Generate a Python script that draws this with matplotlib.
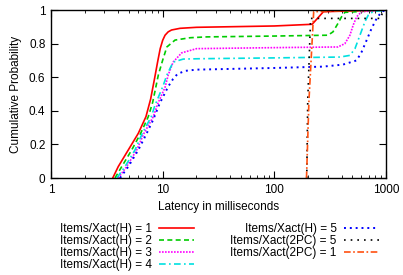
import matplotlib
matplotlib.use("Agg")
import matplotlib.pyplot as plt
from matplotlib.ticker import LogLocator, NullFormatter, FixedLocator

plt.rcParams["font.family"] = ["Liberation Sans", "DejaVu Sans"]
plt.rcParams["font.size"] = 8.5

# latency (ms) / cumulative probability
h1_x = [3.57, 4.0, 4.92, 6.05, 7.08, 7.8, 8.5, 9.0, 9.5, 10.0, 10.5, 11.2, 12.0, 14.3, 20.1, 100, 218, 275, 1000]
h1_y = [0, 0.068, 0.167, 0.266, 0.365, 0.47, 0.60, 0.69, 0.77, 0.82, 0.85, 0.87, 0.881, 0.891, 0.897, 0.905, 0.915, 0.99, 1.0]

h2_x = [3.74, 4.3, 5.28, 6.35, 7.43, 8.13, 9.14, 10.0, 10.9, 12.9, 17.6, 24.8, 100, 302, 335, 371, 400, 428, 1000]
h2_y = [0, 0.068, 0.167, 0.266, 0.365, 0.45, 0.613, 0.702, 0.78, 0.821, 0.835, 0.84, 0.845, 0.85, 0.87, 0.92, 0.96, 0.986, 1.0]

h3_x = [4.0, 4.76, 5.85, 6.8, 8.24, 9.0, 10.5, 11.2, 12.4, 14.8, 20.1, 100, 371, 428, 475, 508, 546, 604, 1000]
h3_y = [0, 0.068, 0.167, 0.266, 0.365, 0.44, 0.54, 0.613, 0.69, 0.745, 0.77, 0.776, 0.78, 0.80, 0.85, 0.91, 0.96, 0.99, 1.0]

h4_x = [3.88, 4.6, 5.65, 6.57, 7.9, 8.5, 10.1, 10.9, 12.4, 15.3, 21.0, 100, 387, 475, 527, 584, 647, 694, 763, 1000]
h4_y = [0, 0.068, 0.167, 0.266, 0.365, 0.43, 0.55, 0.613, 0.69, 0.708, 0.71, 0.715, 0.72, 0.73, 0.77, 0.85, 0.93, 0.97, 0.99, 1.0]

h5_x = [4.15, 4.92, 6.05, 7.19, 8.2, 9.4, 11.2, 12.4, 13.6, 16.0, 20.0, 100, 272, 411, 546, 604, 670, 742, 824, 913, 1000]
h5_y = [0, 0.068, 0.167, 0.266, 0.345, 0.444, 0.544, 0.59, 0.62, 0.638, 0.645, 0.655, 0.663, 0.675, 0.70, 0.75, 0.82, 0.89, 0.95, 0.99, 1.0]

pc5_x = [195, 199, 211, 900, 940, 1000]
pc5_y = [0, 0.46, 0.95, 0.95, 1.0, 1.0]

pc1_x = [194, 204, 225, 1000]
pc1_y = [0, 0.46, 0.99, 1.0]

labels = ["Items/Xact(H) = 1", "Items/Xact(H) = 2", "Items/Xact(H) = 3",
          "Items/Xact(H) = 4", "Items/Xact(H) = 5", "Items/Xact(2PC) = 5",
          "Items/Xact(2PC) = 1"]

fig = plt.figure(figsize=(4.03, 2.75), dpi=100)
ax = fig.add_axes([0.1266, 0.3527, 0.8313, 0.6109])

lines = []
lines += ax.plot(h1_x, h1_y, color="#ff0000", lw=1.2, ls="-")
lines += ax.plot(h2_x, h2_y, color="#00cc00", lw=1.2, ls=(0, (3, 2)))
lines += ax.plot(h3_x, h3_y, color="#ff00ff", lw=1.2, ls=(0, (1, 0.8)))
lines += ax.plot(h4_x, h4_y, color="#00e0e0", lw=1.2, ls=(0, (4, 2, 1, 2)))
lines += ax.plot(h5_x, h5_y, color="#0000ff", lw=1.4, ls=(0, (1, 2)))
lines += ax.plot(pc5_x, pc5_y, color="#000000", lw=1.2, ls=(0, (1, 3)))
lines += ax.plot(pc1_x, pc1_y, color="#ff5010", lw=1.2, ls=(0, (4, 1.5, 1, 1.5)))

ax.set_xscale("log")
ax.set_xlim(1, 1000)
ax.set_ylim(0, 1)
ax.xaxis.set_major_locator(FixedLocator([1, 10, 100, 1000]))
ax.set_xticklabels(["1", "10", "100", "1000"])
ax.xaxis.set_minor_locator(LogLocator(base=10, subs=range(2, 10)))
ax.xaxis.set_minor_formatter(NullFormatter())
ax.set_yticks([0, 0.2, 0.4, 0.6, 0.8, 1])
ax.set_yticklabels(["0", "0.2", "0.4", "0.6", "0.8", "1"])
ax.tick_params(which="both", direction="in", top=True, right=True, labelsize=8.5)
ax.tick_params(which="major", length=5, pad=4)
ax.tick_params(which="minor", length=2.5)
for s in ax.spines.values():
    s.set_linewidth(1.0)

ax.set_xlabel("Latency in milliseconds", fontsize=8.5, labelpad=4)
ax.set_ylabel("Cumulative Probability", fontsize=8.5, labelpad=5)

leg_kw = dict(frameon=False, markerfirst=False, handlelength=3.0,
              handletextpad=0.6, labelspacing=0.0, borderpad=0,
              borderaxespad=0, fontsize=8.5, loc="upper right")
leg1 = fig.legend(lines[:4], labels[:4], bbox_to_anchor=(194 / 403, 1 - 223 / 275), **leg_kw)
leg2 = fig.legend(lines[4:], labels[4:], bbox_to_anchor=(379 / 403, 1 - 223 / 275), **leg_kw)

fig.savefig("out.png", dpi=100)
